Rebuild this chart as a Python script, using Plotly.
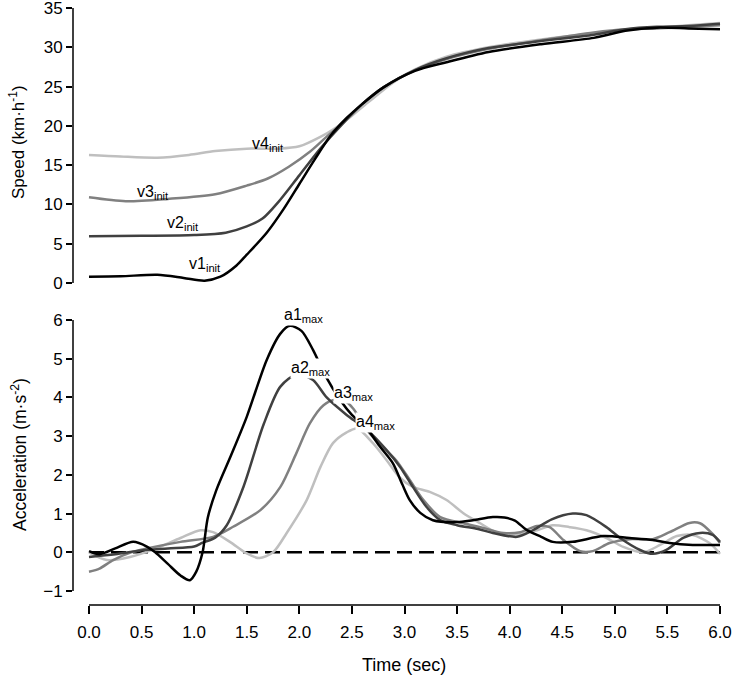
import plotly.graph_objects as go

# ---------------- data ----------------
# Speed (km/h) vs time (s)
V1_T = [0, 0.3, 0.65, 0.9, 1.1, 1.25, 1.4, 1.5, 1.69, 1.85, 2.0, 2.15, 2.3, 2.45, 2.6, 2.8, 3.1, 3.4, 3.8, 4.3, 4.8, 5.1, 5.4, 5.7, 6.0]
V1 = [0.8, 0.85, 1.05, 0.65, 0.3, 0.8, 2.2, 3.6, 6.4, 9.4, 12.6, 15.8, 18.8, 21.0, 22.8, 24.9, 27.0, 28.1, 29.4, 30.4, 31.2, 32.1, 32.5, 32.4, 32.3]

V2_T = [0, 0.5, 1.0, 1.3, 1.5, 1.65, 1.8, 2.0, 2.2, 2.4, 2.6, 2.8, 3.1, 3.4, 3.8, 4.3, 4.8, 5.1, 5.4, 5.7, 6.0]
V2 = [5.95, 6.0, 6.1, 6.4, 7.2, 8.2, 10.3, 13.7, 17.1, 20.1, 22.8, 24.9, 27.1, 28.6, 29.9, 30.8, 31.6, 32.3, 32.6, 32.7, 33.0]

V3_T = [0, 0.35, 0.75, 1.2, 1.5, 1.7, 1.9, 2.1, 2.25, 2.4, 2.6, 2.8, 3.1, 3.4, 3.8, 4.3, 4.8, 5.1, 5.4, 5.7, 6.0]
V3 = [10.9, 10.4, 10.7, 11.3, 12.4, 13.3, 14.8, 16.7, 18.5, 20.2, 22.8, 24.9, 27.1, 28.5, 29.8, 30.9, 31.9, 32.3, 32.4, 32.6, 32.8]

V4_T = [0, 0.3, 0.65, 0.95, 1.2, 1.5, 1.8, 2.0, 2.2, 2.35, 2.5, 2.6, 2.9, 3.1, 3.4, 3.8, 4.3, 4.8, 5.1, 5.4, 5.7, 6.0]
V4 = [16.3, 16.1, 15.95, 16.3, 16.8, 17.1, 17.1, 17.4, 18.6, 19.8, 21.3, 22.4, 25.6, 27.2, 28.8, 30.0, 31.0, 31.8, 32.2, 32.5, 32.8, 33.1]

# Acceleration (m/s^2) vs time (s)
A1_T = [0, 0.1, 0.25, 0.42, 0.55, 0.63, 0.75, 0.87, 0.96, 1.02, 1.08, 1.13, 1.21, 1.35, 1.5, 1.69, 1.82, 1.91, 2.02, 2.13, 2.25, 2.39, 2.5, 2.64, 2.77, 2.89, 2.98, 3.05, 3.15, 3.27, 3.5, 3.65, 3.84, 3.95, 4.05, 4.16, 4.3, 4.41, 4.6, 4.89, 5.14, 5.36, 5.52, 5.74, 6.0]
A1 = [0.03, -0.05, 0.1, 0.27, 0.15, 0.0, -0.3, -0.6, -0.72, -0.5, 0.0, 0.9, 1.6, 2.5, 3.5, 4.97, 5.65, 5.85, 5.72, 5.23, 4.55, 3.93, 3.55, 3.2, 2.72, 2.3, 1.75, 1.35, 1.02, 0.83, 0.78, 0.83, 0.91, 0.9, 0.82, 0.58, 0.4, 0.27, 0.27, 0.42, 0.37, 0.32, 0.24, 0.19, 0.19]

A2_T = [0, 0.25, 0.5, 0.75, 1.0, 1.08, 1.2, 1.31, 1.47, 1.66, 1.82, 1.98, 2.13, 2.26, 2.45, 2.55, 2.65, 2.83, 2.96, 3.08, 3.21, 3.34, 3.5, 3.7, 3.84, 4.07, 4.22, 4.4, 4.6, 4.73, 4.92, 5.05, 5.24, 5.36, 5.49, 5.65, 5.81, 5.93, 6.0]
A2 = [-0.12, -0.05, 0.05, 0.1, 0.15, 0.25, 0.38, 0.7, 1.7, 3.3, 4.28, 4.6, 4.45, 4.0, 3.55, 3.35, 3.15, 2.64, 2.2, 1.69, 1.17, 0.83, 0.7, 0.6, 0.5, 0.4, 0.57, 0.85, 1.0, 0.96, 0.65, 0.37, 0.06, -0.04, 0.06, 0.37, 0.5, 0.45, 0.27]

A3_T = [0, 0.1, 0.23, 0.4, 0.55, 0.87, 1.18, 1.37, 1.63, 1.82, 1.97, 2.1, 2.23, 2.34, 2.45, 2.51, 2.67, 2.8, 2.92, 3.05, 3.18, 3.34, 3.56, 3.72, 3.94, 4.1, 4.26, 4.38, 4.51, 4.67, 4.79, 4.95, 5.14, 5.36, 5.52, 5.71, 5.81, 5.92, 6.0]
A3 = [-0.5, -0.42, -0.2, 0.0, 0.1, 0.27, 0.4, 0.66, 1.09, 1.69, 2.55, 3.33, 3.8, 3.94, 3.88, 3.72, 3.07, 2.7, 2.38, 1.87, 1.35, 0.91, 0.75, 0.65, 0.5, 0.52, 0.68, 0.65, 0.32, 0.03, 0.03, 0.24, 0.34, 0.34, 0.52, 0.76, 0.75, 0.5, 0.24]

A4_T = [0, 0.17, 0.39, 0.64, 0.87, 1.06, 1.18, 1.34, 1.5, 1.62, 1.75, 1.88, 2.07, 2.2, 2.32, 2.45, 2.55, 2.7, 2.83, 2.96, 3.08, 3.24, 3.4, 3.56, 3.72, 3.87, 4.0, 4.26, 4.41, 4.57, 4.73, 4.92, 5.08, 5.27, 5.43, 5.59, 5.74, 5.9, 6.0]
A4 = [0.0, -0.2, -0.12, 0.1, 0.37, 0.57, 0.52, 0.27, -0.03, -0.15, 0.0, 0.5, 1.35, 2.2, 2.82, 3.1, 3.2, 2.82, 2.38, 1.92, 1.69, 1.56, 1.35, 1.01, 0.75, 0.52, 0.45, 0.57, 0.7, 0.65, 0.57, 0.37, 0.14, 0.0, 0.19, 0.42, 0.45, 0.24, -0.04]

ZERO_T = [0, 6]
ZERO_A = [0, 0]

X_TICKS = [0, 0.5, 1, 1.5, 2, 2.5, 3, 3.5, 4, 4.5, 5, 5.5, 6]
X_TICK_TEXT = ["0.0", "0.5", "1.0", "1.5", "2.0", "2.5", "3.0", "3.5", "4.0", "4.5", "5.0", "5.5", "6.0"]
SPEED_TICKS = [0, 5, 10, 15, 20, 25, 30, 35]
ACC_TICKS = [-1, 0, 1, 2, 3, 4, 5, 6]

SPEED_LABELS = [("v1<sub>init</sub>", 0.93, 2.3), ("v2<sub>init</sub>", 0.72, 7.6),
                ("v3<sub>init</sub>", 0.44, 11.5), ("v4<sub>init</sub>", 1.53, 17.6)]
ACC_LABELS = [("a1<sub>max</sub>", 1.84, 6.12), ("a2<sub>max</sub>", 1.91, 4.76),
              ("a3<sub>max</sub>", 2.32, 4.1), ("a4<sub>max</sub>", 2.53, 3.35)]

COLORS = ["#000000", "#404040", "#808080", "#bfbfbf"]

# ---------------- figure ----------------
FONT = "Liberation Sans, Arial, sans-serif"
fig = go.Figure()

speed_series = [(V1_T, V1), (V2_T, V2), (V3_T, V3), (V4_T, V4)]
acc_series = [(A1_T, A1), (A2_T, A2), (A3_T, A3), (A4_T, A4)]

for i in [3, 2, 1, 0]:
    t, v = speed_series[i]
    fig.add_trace(go.Scatter(x=t, y=v, mode="lines", xaxis="x", yaxis="y",
                             line=dict(color=COLORS[i], width=2.5, shape="spline", smoothing=0.8),
                             showlegend=False, hoverinfo="skip"))

fig.add_trace(go.Scatter(x=ZERO_T, y=ZERO_A, mode="lines", xaxis="x2", yaxis="y2",
                         line=dict(color="black", width=2.5, dash="15px,7px"),
                         showlegend=False, hoverinfo="skip"))

for i in [3, 2, 1, 0]:
    t, a = acc_series[i]
    fig.add_trace(go.Scatter(x=t, y=a, mode="lines", xaxis="x2", yaxis="y2",
                             line=dict(color=COLORS[i], width=2.5, shape="spline", smoothing=0.8),
                             showlegend=False, hoverinfo="skip"))

PLOT_H = 605.0
XR = [-0.152, 6.0475]
TICK_FONT = dict(size=17, family=FONT, color="black")

fig.update_layout(
    width=733, height=677,
    margin=dict(l=73, r=8, t=0, b=72),
    paper_bgcolor="white", plot_bgcolor="white",
    font=dict(family=FONT, size=16, color="black"),
    xaxis=dict(domain=[0, 1], range=XR, anchor="y", visible=False),
    yaxis=dict(domain=[(PLOT_H - 290) / PLOT_H, 1.0], range=[-0.891, 36.02], anchor="x",
               tickvals=SPEED_TICKS, ticks="outside", ticklen=6, tickwidth=1.5, tickcolor="black",
               showgrid=False, zeroline=False, showline=False, tickfont=TICK_FONT,
               ticklabeloverflow="allow"),
    xaxis2=dict(domain=[0, 1], range=XR, anchor="y2",
                tickvals=X_TICKS, ticktext=X_TICK_TEXT, ticks="outside", ticklen=8, tickwidth=1.5,
                tickcolor="black", showgrid=False, zeroline=False, showline=False,
                tickfont=TICK_FONT, ticklabelstandoff=4, ticklabeloverflow="allow"),
    yaxis2=dict(domain=[0, (PLOT_H - 305) / PLOT_H], range=[-1.361, 6.389], anchor="x2",
                tickvals=ACC_TICKS, ticks="outside", ticklen=6, tickwidth=1.5, tickcolor="black",
                showgrid=False, zeroline=False, showline=False, tickfont=TICK_FONT,
                ticklabeloverflow="allow"),
)

# axis lines spanning only the tick range
fig.add_shape(type="line", xref="x domain", yref="y", x0=0, x1=0, y0=0, y1=35,
              line=dict(color="black", width=1.5))
fig.add_shape(type="line", xref="x2 domain", yref="y2", x0=0, x1=0, y0=-1, y1=6,
              line=dict(color="black", width=1.5))
fig.add_shape(type="line", xref="x2", yref="y2 domain", x0=0, x1=6, y0=0, y1=0,
              line=dict(color="black", width=1.5))

for txt, tx, ty in SPEED_LABELS:
    fig.add_annotation(x=tx, y=ty, xref="x", yref="y", text=txt, showarrow=False,
                       xanchor="left", yanchor="middle", font=dict(size=16, family=FONT))
for txt, tx, ty in ACC_LABELS:
    fig.add_annotation(x=tx, y=ty, xref="x2", yref="y2", text=txt, showarrow=False,
                       xanchor="left", yanchor="middle", bgcolor="white", borderpad=0,
                       font=dict(size=16, family=FONT))

# axis titles
fig.add_annotation(xref="paper", yref="paper", x=(17 - 73) / 652, y=(PLOT_H - 142) / PLOT_H,
                   text="Speed (km·h<sup>-1</sup>)", textangle=-90, showarrow=False,
                   xanchor="center", yanchor="middle", font=dict(size=17, family=FONT))
fig.add_annotation(xref="paper", yref="paper", x=(19 - 73) / 652, y=(PLOT_H - 455) / PLOT_H,
                   text="Acceleration (m·s<sup>-2</sup>)", textangle=-90, showarrow=False,
                   xanchor="center", yanchor="middle", font=dict(size=17.5, family=FONT))
fig.add_annotation(xref="paper", yref="paper", x=(404 - 73) / 652, y=(PLOT_H - 665) / PLOT_H,
                   text="Time (sec)", showarrow=False,
                   xanchor="center", yanchor="middle", font=dict(size=18, family=FONT))

fig.write_html("out.html", config={"displayModeBar": False},
               post_script="document.body.style.margin='0';document.body.style.padding='0';"
                           "document.body.style.overflow='hidden';")
